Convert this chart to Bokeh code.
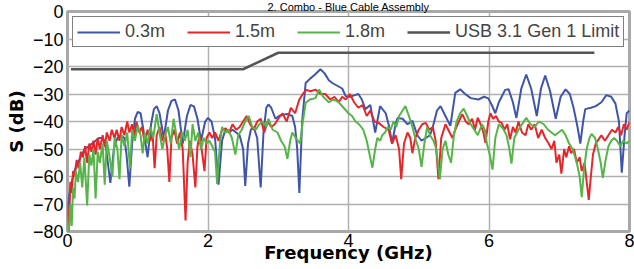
from bokeh.plotting import figure
from bokeh.models import Range1d, FixedTicker, Legend, LegendItem
from bokeh.embed import file_html
from bokeh.resources import INLINE

# ---- data ----
x_ticks = [0, 2, 4, 6, 8]
y_ticks = [-80, -70, -60, -50, -40, -30, -20, -10, 0]

freq_blue = [0.00, 0.03, 0.06, 0.10, 0.15, 0.20, 0.25, 0.30, 0.35, 0.40, 0.45, 0.50, 0.55, 0.61, 0.66, 0.71, 0.76, 0.81, 0.84, 0.88,
             0.92, 0.96, 1.00, 1.04, 1.08, 1.14, 1.19, 1.23, 1.27, 1.31, 1.37, 1.43, 1.48, 1.53, 1.58, 1.64, 1.70, 1.75, 1.80, 1.85,
             1.90, 1.96, 2.00, 2.05, 2.10, 2.15, 2.20, 2.25, 2.30, 2.35, 2.40, 2.45, 2.50, 2.53, 2.57, 2.61, 2.65, 2.70, 2.75, 2.79,
             2.83, 2.86, 2.90, 2.96, 3.01, 3.07, 3.13, 3.20, 3.24, 3.27, 3.30, 3.34, 3.39, 3.45, 3.52, 3.60, 3.66, 3.72, 3.77, 3.84,
             3.91, 3.96, 4.02, 4.08, 4.14, 4.19, 4.24, 4.31, 4.38, 4.45, 4.53, 4.58, 4.62, 4.67, 4.70, 4.77, 4.84, 4.91, 4.98, 5.04,
             5.10, 5.16, 5.20, 5.26, 5.31, 5.38, 5.45, 5.52, 5.59, 5.66, 5.74, 5.85, 5.93, 5.99, 6.04, 6.09, 6.14, 6.18, 6.23, 6.28,
             6.34, 6.39, 6.46, 6.53, 6.60, 6.68, 6.74, 6.80, 6.87, 6.95, 7.02, 7.09, 7.15, 7.20, 7.26, 7.30, 7.34, 7.37, 7.45, 7.52,
             7.60, 7.67, 7.74, 7.80, 7.85, 7.89, 7.93, 7.96, 8.00]
s_blue = [-72, -66, -62, -58, -55, -52, -50, -49, -48, -47, -46, -46, -50, -62.3, -50, -46, -45, -46, -52, -63.7,
          -48, -39, -36.5, -37, -43, -53, -41, -35.5, -34.4, -37, -46, -36, -32.5, -32, -36, -48, -38, -34, -34.5, -39,
          -47, -40, -38.7, -40, -46, -63, -47, -42.7, -44, -43, -44, -45, -50, -63.4, -48, -43, -42, -46, -64, -44,
          -35, -33.8, -35, -39, -38, -37.5, -37.3, -38, -42, -50, -66, -40, -26, -24.5, -23, -21, -22.5, -25, -26, -27,
          -28, -30.8, -31, -30.5, -30, -32, -35.5, -34, -44, -34.4, -37, -42, -48, -41, -38.7, -39, -41, -39.8, -45, -47,
          -46, -45, -42, -36, -34.4, -38, -41.6, -29.6, -28.3, -30, -31.5, -32, -31, -31.6, -34, -37, -33, -31, -28.5, -28.3,
          -33, -38.7, -28, -22.9, -28, -38, -28, -23.3, -29, -39, -31, -28.3, -30, -34.6, -42, -48, -40, -35.5, -35, -34.4,
          -33, -30.4, -31, -33.5, -40, -58.6, -45, -37, -36]

freq_red = [0.00, 0.02, 0.04, 0.06, 0.08, 0.10, 0.13, 0.16, 0.19, 0.22, 0.25, 0.28, 0.31, 0.34, 0.37, 0.40, 0.43, 0.46, 0.50, 0.53,
            0.56, 0.60, 0.63, 0.67, 0.70, 0.74, 0.77, 0.81, 0.85, 0.88, 0.92, 0.95, 0.98, 1.02, 1.06, 1.10, 1.14, 1.18, 1.21, 1.24,
            1.27, 1.31, 1.35, 1.39, 1.42, 1.45, 1.48, 1.52, 1.56, 1.60, 1.64, 1.68, 1.71, 1.74, 1.78, 1.82, 1.85, 1.88, 1.92, 1.95,
            1.98, 2.02, 2.06, 2.10, 2.15, 2.20, 2.25, 2.30, 2.35, 2.40, 2.45, 2.50, 2.55, 2.60, 2.65, 2.70, 2.75, 2.80, 2.85, 2.90,
            2.95, 3.00, 3.06, 3.12, 3.18, 3.24, 3.30, 3.35, 3.40, 3.46, 3.53, 3.60, 3.67, 3.74, 3.80, 3.86, 3.91, 3.96, 4.02, 4.08,
            4.14, 4.20, 4.26, 4.31, 4.37, 4.43, 4.50, 4.57, 4.62, 4.67, 4.72, 4.75, 4.79, 4.84, 4.88, 4.91, 4.95, 5.00, 5.05, 5.10,
            5.15, 5.20, 5.24, 5.28, 5.32, 5.38, 5.44, 5.48, 5.52, 5.57, 5.62, 5.67, 5.71, 5.76, 5.80, 5.84, 5.88, 5.92, 5.95, 5.99,
            6.02, 6.06, 6.10, 6.14, 6.18, 6.22, 6.26, 6.30, 6.34, 6.38, 6.42, 6.47, 6.52, 6.56, 6.60, 6.65, 6.70, 6.75, 6.80, 6.85,
            6.89, 6.93, 6.96, 7.00, 7.03, 7.07, 7.10, 7.14, 7.17, 7.21, 7.25, 7.29, 7.32, 7.36, 7.40, 7.42, 7.45, 7.48, 7.52, 7.56,
            7.60, 7.65, 7.70, 7.75, 7.80, 7.84, 7.88, 7.92, 7.96, 8.00]
s_red = [-72, -80, -62, -66, -58, -60, -54, -57, -51, -53, -49, -55, -48, -51, -47, -52, -46, -50, -45, -49,
         -44, -47, -43, -46, -43, -47, -42, -45, -40, -44, -41, -46, -40, -44, -42, -48, -43, -47, -44, -57,
         -45, -42, -47, -44, -50, -62, -46, -43, -48, -44, -50, -76, -55, -47, -52, -64, -49, -45, -52, -58,
         -46, -44, -46, -44, -47, -43, -42.5, -44, -41, -43, -42, -40, -38, -41, -43, -40, -39, -44, -40, -42,
         -41, -39, -37, -40, -35, -37, -32, -30, -28.5, -29, -28.4, -30, -30, -32, -31, -33, -31, -32, -30, -33,
         -35, -34, -38, -36, -40, -40.5, -42, -43, -48, -45, -50, -61, -48, -44, -46, -51.5, -46, -43, -41, -40.5,
         -43, -42, -47, -61, -46, -41, -44, -46, -43, -40, -37.3, -40, -41, -39, -43, -38.6, -41, -44, -47.8, -40,
         -37, -39, -38, -40, -40.5, -43, -41, -46.5, -42, -44, -40, -44, -45, -41, -43, -41, -46, -43, -46, -48,
         -50, -47, -55, -52, -59, -50, -53, -49, -51.5, -50, -55, -53, -58, -55, -64, -68.5, -60, -52, -48, -46.5,
         -45, -47, -45, -43, -44, -42, -45, -41, -43, -40]

freq_green = [0.00, 0.02, 0.04, 0.06, 0.08, 0.10, 0.12, 0.15, 0.18, 0.21, 0.24, 0.28, 0.31, 0.34, 0.37, 0.40, 0.43, 0.46, 0.50, 0.53,
              0.56, 0.60, 0.64, 0.67, 0.71, 0.74, 0.77, 0.81, 0.85, 0.89, 0.92, 0.96, 1.00, 1.04, 1.07, 1.10, 1.14, 1.18, 1.22, 1.27,
              1.31, 1.35, 1.39, 1.43, 1.47, 1.51, 1.55, 1.59, 1.63, 1.67, 1.71, 1.75, 1.78, 1.82, 1.86, 1.90, 1.94, 1.98, 2.02, 2.06,
              2.10, 2.13, 2.17, 2.20, 2.25, 2.29, 2.34, 2.39, 2.43, 2.48, 2.53, 2.58, 2.63, 2.68, 2.73, 2.78, 2.83, 2.86, 2.92, 2.99,
              3.04, 3.09, 3.13, 3.17, 3.20, 3.25, 3.31, 3.35, 3.39, 3.45, 3.53, 3.58, 3.64, 3.72, 3.79, 3.86, 3.93, 4.00, 4.05, 4.10,
              4.15, 4.21, 4.26, 4.30, 4.34, 4.38, 4.41, 4.45, 4.48, 4.52, 4.56, 4.60, 4.64, 4.68, 4.72, 4.77, 4.81, 4.86, 4.91, 4.95,
              5.00, 5.04, 5.08, 5.12, 5.16, 5.21, 5.25, 5.30, 5.34, 5.38, 5.42, 5.46, 5.50, 5.54, 5.59, 5.64, 5.69, 5.74, 5.79, 5.84,
              5.90, 5.94, 5.97, 6.01, 6.05, 6.09, 6.14, 6.20, 6.25, 6.29, 6.32, 6.36, 6.42, 6.47, 6.53, 6.59, 6.65, 6.71, 6.78, 6.84,
              6.89, 6.94, 6.99, 7.04, 7.09, 7.14, 7.19, 7.25, 7.29, 7.32, 7.35, 7.39, 7.43, 7.46, 7.51, 7.55, 7.59, 7.62, 7.66, 7.70,
              7.74, 7.78, 7.82, 7.87, 7.91, 7.96, 8.00]
s_green = [-79, -80, -70, -78, -64, -68, -58, -62, -55, -64, -53, -70.5, -52, -56, -50, -68, -51, -55, -48, -63,
           -47, -53, -60, -46, -50, -61, -45, -49, -44, -57, -43, -47, -41.5, -45, -51.6, -44, -48, -42, -46, -37.3,
           -44, -50, -45, -42, -48, -39, -45, -50, -44, -47, -43, -53, -41, -47, -44, -50, -46, -48, -47, -49,
           -51, -62.7, -48, -42, -44, -43, -46, -52, -45, -43, -40, -38, -42, -43, -41, -40, -42, -39, -43, -44,
           -47, -49, -53.6, -47, -44, -46, -48, -40, -33.2, -32, -31.5, -28.4, -31, -33, -32, -33, -35, -37, -38, -40,
           -41, -43, -47, -52, -56.8, -50, -46, -47, -45, -44, -42, -43, -40, -42, -38, -36, -34.4, -38, -42, -46,
           -50, -56.5, -48, -42, -45, -47, -50, -61, -50, -47, -52, -55, -45, -40, -37, -35.3, -38, -41, -43, -45,
           -41, -43, -48, -52, -57.5, -46, -41, -42.6, -45, -50, -55.3, -46, -43, -41, -38.7, -41, -42, -40, -41, -43,
           -44, -45, -44, -43, -45, -48, -50, -55, -60, -67.5, -58, -50, -46, -44.5, -46, -50, -55, -60.5, -54, -49,
           -47, -46, -47, -49, -47, -48, -47]

freq_limit = [0.05, 2.5, 3.0, 7.5]
s_limit = [-21, -21, -15, -15]

names = ["0.3m", "1.5m", "1.8m", "USB 3.1 Gen 1 Limit"]
title_text = "2. Combo - Blue Cable Assembly"

FONT = "Liberation Sans"
LABEL_FONT = "DejaVu Sans"

p = figure(width=634, height=269, output_backend="svg", toolbar_location=None,
           title=title_text,
           x_range=Range1d(0, 8), y_range=Range1d(-80, 0),
           min_border_left=67, min_border_right=5, min_border_top=10, min_border_bottom=38)
p.background_fill_color = "white"
p.border_fill_color = "white"
p.outline_line_color = "#a8a8a8"
p.outline_line_width = 3

p.title.align = "center"
p.title.text_font = FONT
p.title.text_font_style = "normal"
p.title.text_font_size = "11px"
p.title.standoff = -3
p.title.text_color = "black"

p.xaxis.ticker = FixedTicker(ticks=x_ticks)
p.yaxis.ticker = FixedTicker(ticks=y_ticks)
for ax in (p.xaxis[0], p.yaxis[0]):
    ax.axis_line_color = None
    ax.major_tick_line_color = None
    ax.minor_tick_line_color = None
    ax.major_tick_out = 0
    ax.major_tick_in = 0
    ax.major_label_text_font = FONT
    ax.major_label_text_font_size = "18px"
    ax.major_label_text_color = "black"
    ax.axis_label_text_font = LABEL_FONT
    ax.axis_label_text_font_style = "bold"
    ax.axis_label_text_font_size = "18px"
    ax.axis_label_text_color = "black"
p.xaxis.major_label_standoff = 2
p.yaxis.major_label_standoff = 4

p.xaxis.axis_label = "Frequency (GHz)"
p.xaxis.axis_label_standoff = -8
p.yaxis.axis_label = "S (dB)"
p.yaxis.axis_label_standoff = 3

p.xgrid.grid_line_color = "#b0b0b0"
p.ygrid.grid_line_color = "#b0b0b0"
p.xgrid.grid_line_width = 1.5
p.ygrid.grid_line_width = 1.5

r_blue = p.line(freq_blue, s_blue, line_color="#3f55aa", line_width=2)
r_red = p.line(freq_red, s_red, line_color="#e8262a", line_width=2)
r_green = p.line(freq_green, s_green, line_color="#55b548", line_width=2)
r_limit = p.line(freq_limit, s_limit, line_color="#555555", line_width=2.5)

legend = Legend(items=[LegendItem(label=names[0], renderers=[r_blue]),
                       LegendItem(label=names[1], renderers=[r_red]),
                       LegendItem(label=names[2], renderers=[r_green]),
                       LegendItem(label=names[3], renderers=[r_limit])],
                orientation="horizontal", location="top_left", margin=5,
                padding=4, spacing=22, glyph_width=43, glyph_height=14,
                label_standoff=5, label_height=14,
                label_text_font=FONT, label_text_font_size="18px",
                border_line_color="black", border_line_width=1.5,
                background_fill_color="white", background_fill_alpha=1)
p.add_layout(legend)

html = file_html(p, INLINE)
html = html.replace("<body>", '<body style="margin:0">', 1)
open("out.html", "w").write(html)
